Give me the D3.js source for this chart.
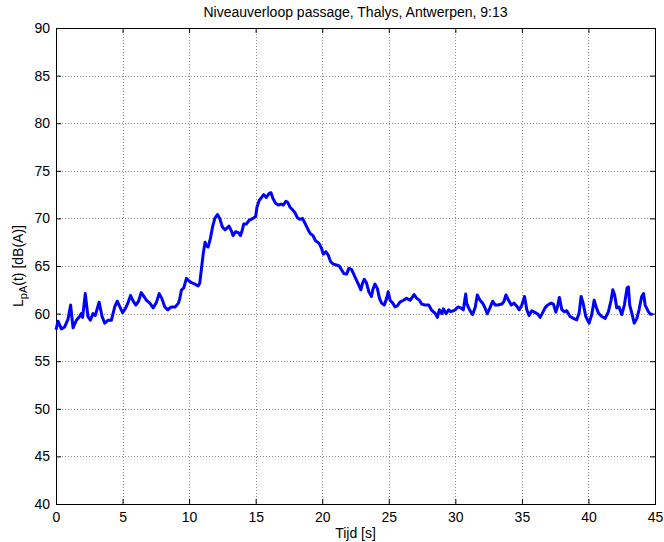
<!DOCTYPE html>
<html>
<head>
<meta charset="utf-8">
<script src="https://cdn.jsdelivr.net/npm/d3@7"></script>
<style>
  body { margin: 0; background: #fff; }
  svg { display: block; font-family: "Liberation Sans", Arial, sans-serif; }
  .tick text { font-size: 14px; fill: #000; }
</style>
</head>
<body>
<svg id="chart" width="664" height="542"></svg>
<script>
// tijd (s) en niveau (dB(A))
var tijd = [0, 0.15, 0.4, 0.65, 0.9, 1.1, 1.28, 1.53, 1.78, 1.9, 2.0, 2.2, 2.4, 2.58, 2.78, 2.95, 3.24, 3.46, 3.66, 3.9, 4.16, 4.41, 4.6, 4.8, 5.0, 5.2, 5.4, 5.6, 5.8, 6.0, 6.2, 6.4, 6.6, 6.8, 7.05, 7.3, 7.55, 7.75, 7.95, 8.17, 8.4, 8.67, 8.95, 9.2,
  9.3, 9.43, 9.6, 9.8, 9.93, 10.18, 10.43, 10.68, 10.8, 10.93, 11.06, 11.2, 11.3, 11.43, 11.6, 11.76, 11.93, 12.13, 12.3, 12.5, 12.7, 12.86, 13.0, 13.2, 13.3, 13.5, 13.7, 13.86, 14.0, 14.1, 14.3, 14.5, 14.8, 15.0, 15.1, 15.27, 15.44, 15.6, 15.8, 16.0, 16.15, 16.3, 16.5, 16.7, 16.9, 17.07, 17.27, 17.4,
  17.57, 17.77, 17.95, 18.12, 18.32, 18.52, 18.7, 18.95, 19.1, 19.3, 19.5, 19.75, 19.95, 20.08, 20.28, 20.45, 20.63, 20.83, 21.08, 21.28, 21.45, 21.63, 21.83, 22.0, 22.2, 22.4, 22.58, 22.78, 22.9, 23.03, 23.16, 23.33, 23.5, 23.7, 23.8, 23.96, 24.14, 24.3, 24.46, 24.66, 24.84, 24.96, 25.1, 25.3, 25.47, 25.64,
  25.84, 26.1, 26.34, 26.6, 26.9, 27.1, 27.3, 27.47, 27.7, 28.0, 28.2, 28.5, 28.65, 28.8, 29.0, 29.1, 29.3, 29.5, 29.65, 29.85, 30.0, 30.2, 30.4, 30.6, 30.78, 30.85, 31.0, 31.15, 31.3, 31.5, 31.65, 31.85, 32.05, 32.2, 32.4, 32.6, 32.8, 33.0, 33.2, 33.5, 33.66, 33.8, 34.0, 34.2, 34.4, 34.6, 34.8, 35.0, 35.2,
  35.37, 35.54, 35.74, 35.94, 36.2, 36.37, 36.54, 36.74, 36.94, 37.2, 37.37, 37.55, 37.67, 37.82, 38.0, 38.2, 38.37, 38.62, 38.87, 39.12, 39.3, 39.45, 39.6, 39.8, 40.05, 40.25, 40.43, 40.58, 40.75, 41.0, 41.26, 41.5, 41.7, 41.83, 41.96, 42.13, 42.3, 42.5, 42.7, 42.9, 43.0, 43.1, 43.26, 43.44, 43.64, 43.8, 44.0, 44.14, 44.26, 44.5, 44.64, 44.82];
var niveau = [58.3, 59.2, 58.4, 58.6, 59.4, 60.9, 58.5, 59.3, 59.7, 60.0, 59.6, 62.1, 59.7, 59.3, 60.0, 59.8, 61.2, 59.7, 59.0, 59.3, 59.3, 60.7, 61.3, 60.7, 60.1, 60.5, 61.1, 61.9, 61.3, 60.9, 61.3, 62.2, 61.8, 61.4, 61.1, 60.6, 61.2, 62.1, 61.6, 60.7, 60.4, 60.7, 60.7, 61.1,
  61.6, 62.5, 62.7, 63.7, 63.5, 63.25, 63.1, 62.9, 63.2, 64.75, 66.3, 67.5, 67.1, 67.0, 67.9, 69.1, 70.0, 70.4, 70.0, 69.1, 68.8, 69.0, 69.2, 68.6, 68.2, 68.6, 68.5, 68.2, 68.8, 69.4, 69.4, 69.8, 70.0, 70.2, 71.2, 71.9, 72.2, 72.5, 72.2, 72.6, 72.7, 72.1, 71.6, 71.4, 71.5, 71.4, 71.8, 71.7,
  71.2, 70.9, 70.6, 70.1, 69.9, 70.0, 69.5, 68.8, 68.4, 68.2, 67.65, 67.4, 66.85, 66.25, 66.5, 66.15, 65.45, 65.2, 65.1, 65.0, 64.6, 64.2, 64.15, 64.75, 64.65, 64.05, 63.5, 62.9, 62.5, 63.2, 63.6, 63.2, 62.3, 61.8, 62.5, 63.1, 62.65, 61.6, 61.1, 60.9, 61.6, 62.3, 61.4, 61.1, 60.7, 60.8,
  61.2, 61.4, 61.6, 61.4, 62.0, 61.6, 61.4, 61.0, 60.9, 60.9, 60.4, 60.0, 59.6, 60.4, 60.0, 60.5, 60.0, 60.4, 60.2, 60.3, 60.4, 60.7, 60.6, 60.4, 62.05, 61.1, 60.6, 60.2, 59.9, 60.7, 61.95, 61.4, 61.1, 60.7, 60.0, 60.6, 61.3, 60.9, 60.9, 61.0, 61.3, 61.95, 61.4, 60.9, 61.1, 60.8, 60.4, 60.9, 61.8,
  60.4, 59.8, 60.3, 60.15, 59.95, 59.6, 60.05, 60.6, 60.9, 61.1, 61.0, 60.15, 60.7, 61.7, 60.4, 60.2, 60.3, 59.7, 59.5, 59.35, 60.05, 61.8, 61.1, 59.7, 59.0, 59.9, 61.4, 60.7, 60.05, 59.7, 59.5, 60.2, 61.4, 62.5, 62.0, 60.6, 60.7, 59.9, 60.9, 62.7, 62.8, 60.9, 60.05, 59.0, 59.5, 60.4, 61.8, 62.1, 60.9, 60.2, 59.95, 59.9];
var xTicks = [0, 5, 10, 15, 20, 25, 30, 35, 40, 45];
var yTicks = [40, 45, 50, 55, 60, 65, 70, 75, 80, 85, 90];

var svg = d3.select("#chart");
var mLeft = 56, mRight = 655, mTop = 28, mBottom = 504;

var x = d3.scaleLinear().domain([0, 45]).range([mLeft, mRight]);
var y = d3.scaleLinear().domain([40, 90]).range([mBottom, mTop]);

// rasterlijnen
var grid = svg.append("g").attr("class", "grid");
grid.selectAll("line.gx")
  .data(xTicks.slice(1, -1))
  .enter().append("line")
  .attr("x1", function(d) { return Math.round(x(d)) + 0.5; })
  .attr("x2", function(d) { return Math.round(x(d)) + 0.5; })
  .attr("y1", mTop).attr("y2", mBottom)
  .attr("stroke", "#8c8c8c").attr("stroke-dasharray", "1,2");
grid.selectAll("line.gy")
  .data(yTicks.slice(1, -1))
  .enter().append("line")
  .attr("y1", function(d) { return Math.round(y(d)) + 0.5; })
  .attr("y2", function(d) { return Math.round(y(d)) + 0.5; })
  .attr("x1", mLeft).attr("x2", mRight)
  .attr("stroke", "#8c8c8c").attr("stroke-dasharray", "1,2");

// assen (maatstreepjes naar binnen)
svg.append("g")
  .attr("transform", "translate(0," + mBottom + ")")
  .call(d3.axisBottom(x).tickValues(xTicks).tickSizeInner(-5).tickSizeOuter(0).tickPadding(8));
svg.append("g")
  .attr("transform", "translate(0," + mTop + ")")
  .call(d3.axisTop(x).tickValues(xTicks).tickSizeInner(-5).tickSizeOuter(0).tickFormat(""));
svg.append("g")
  .attr("transform", "translate(" + mLeft + ",0)")
  .call(d3.axisLeft(y).tickValues(yTicks).tickSizeInner(-5).tickSizeOuter(0).tickPadding(6));
svg.append("g")
  .attr("transform", "translate(" + mRight + ",0)")
  .call(d3.axisRight(y).tickValues(yTicks).tickSizeInner(-5).tickSizeOuter(0).tickFormat(""));

svg.selectAll(".domain").remove();
svg.selectAll(".tick line").attr("stroke", "#000");
svg.selectAll(".tick text").attr("font-family", "Liberation Sans, Arial, sans-serif");

// kader
svg.append("rect")
  .attr("x", mLeft + 0.5).attr("y", mTop + 0.5)
  .attr("width", mRight - mLeft).attr("height", mBottom - mTop)
  .attr("fill", "none").attr("stroke", "#000");

// de meetcurve
var pts = tijd.map(function(t, i) { return [t, niveau[i]]; });
var line = d3.line()
  .x(function(d) { return x(d[0]); })
  .y(function(d) { return y(d[1]); });
svg.append("path")
  .datum(pts)
  .attr("d", line)
  .attr("fill", "none")
  .attr("stroke", "#0000ff")
  .attr("stroke-width", 3)
  .attr("stroke-linejoin", "round");

// teksten
svg.append("text")
  .attr("x", (mLeft + mRight) / 2).attr("y", 17)
  .attr("text-anchor", "middle")
  .attr("font-size", 14)
  .text("Niveauverloop passage, Thalys, Antwerpen, 9:13");

svg.append("text")
  .attr("x", (mLeft + mRight) / 2).attr("y", 538)
  .attr("text-anchor", "middle")
  .attr("font-size", 14)
  .text("Tijd [s]");

var ylab = svg.append("text")
  .attr("transform", "translate(23," + ((mTop + mBottom) / 2) + ") rotate(-90)")
  .attr("text-anchor", "middle")
  .attr("font-size", 14);
ylab.append("tspan").text("L");
ylab.append("tspan").attr("font-size", 11).attr("dy", 4).text("pA");
ylab.append("tspan").attr("dy", -4).text("(t) [dB(A)]");
</script>
</body>
</html>
